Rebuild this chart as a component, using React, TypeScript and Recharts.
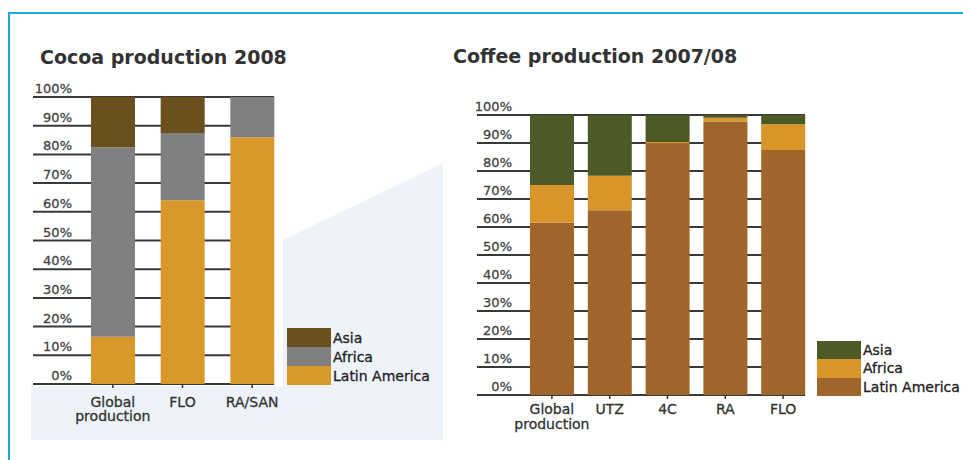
import React from 'react';
import { BarChart, Bar, XAxis, YAxis, CartesianGrid, Legend } from 'recharts';

// ---------- Data ----------
const cocoaCategories = ['Global production', 'FLO', 'RA/SAN'];
const cocoaLatinAmerica = [16.5, 64, 86];
const cocoaAfrica = [66, 23.5, 14];
const cocoaAsia = [17.5, 12.5, 0];

const coffeeCategories = ['Global production', 'UTZ', '4C', 'RA', 'FLO'];
const coffeeLatinAmerica = [61.5, 66, 89.8, 97.7, 87.5];
const coffeeAfrica = [13.5, 12.3, 0.6, 1.3, 9.2];
const coffeeAsia = [25, 21.7, 9.6, 1.0, 3.3];

const percentTicks = [0, 10, 20, 30, 40, 50, 60, 70, 80, 90, 100];
const legendOrder = ['Asia', 'Africa', 'Latin America'];

const cocoaData = cocoaCategories.map((name, i) => ({
  name,
  latin: cocoaLatinAmerica[i],
  africa: cocoaAfrica[i],
  asia: cocoaAsia[i],
}));

const coffeeData = coffeeCategories.map((name, i) => ({
  name,
  latin: coffeeLatinAmerica[i],
  africa: coffeeAfrica[i],
  asia: coffeeAsia[i],
}));

const FONT = '"DejaVu Sans", Verdana, sans-serif';

const YTick = (props: any) => {
  const { x, y, payload, shift } = props;
  return (
    <text
      x={x + shift}
      y={y - 4}
      textAnchor="end"
      fontSize={13}
      fill="#444"
      stroke="#444"
      strokeWidth={0.3}
      fontFamily={FONT}
    >
      {payload.value}%
    </text>
  );
};

const XTick = (props: any) => {
  const { x, y, payload, first } = props;
  const lines = String(payload.value).split(' ');
  return (
    <text x={x} y={y} textAnchor="middle" fontSize={14} fill="#333" stroke="#333" strokeWidth={0.3} fontFamily={FONT}>
      {lines.map((l, i) => (
        <tspan key={i} x={x} dy={i === 0 ? first : 14.5}>
          {l}
        </tspan>
      ))}
    </text>
  );
};

const makeLegend = (rowH: number) => (props: any) => {
  const items = [...(props.payload || [])].sort(
    (a: any, b: any) => legendOrder.indexOf(a.value) - legendOrder.indexOf(b.value)
  );
  return (
    <div style={{ fontFamily: FONT }}>
      {items.map((it: any) => (
        <div key={it.value} style={{ display: 'flex', alignItems: 'center', height: rowH }}>
          <div style={{ width: 44, height: rowH, background: it.color }} />
          <span
            style={{
              marginLeft: 2,
              fontSize: 14,
              color: '#222',
              whiteSpace: 'nowrap',
              WebkitTextStroke: '0.3px #222',
            }}
          >
            {it.value}
          </span>
        </div>
      ))}
    </div>
  );
};

const titleStyle: React.CSSProperties = {
  position: 'absolute',
  fontFamily: FONT,
  fontWeight: 'bold',
  fontSize: 19,
  lineHeight: '19px',
  color: '#333',
  whiteSpace: 'nowrap',
};

export default function App() {
  return (
    <div
      style={{
        position: 'absolute',
        left: 0,
        top: 0,
        width: 963,
        height: 460,
        overflow: 'hidden',
        background: '#fff',
      }}
    >
      {/* background panel */}
      <svg width={963} height={460} style={{ position: 'absolute', left: 0, top: 0 }}>
        <polygon points="31,386 283,386 283,240 443,163 443,440 31,440" fill="#eef3f9" />
      </svg>

      {/* frame */}
      <div style={{ position: 'absolute', left: 8, top: 12, width: 955, height: 2, background: '#1ea7e1' }} />
      <div style={{ position: 'absolute', left: 8, top: 12, width: 2, height: 448, background: '#1ea7e1' }} />

      <div style={{ ...titleStyle, left: 40, top: 48 }}>Cocoa production 2008</div>
      <div style={{ ...titleStyle, left: 453, top: 47 }}>Coffee production 2007/08</div>

      {/* Cocoa */}
      <div style={{ position: 'absolute', left: 0, top: 0 }}>
        <BarChart
          width={445}
          height={440}
          data={cocoaData}
          margin={{ top: 97, right: 171, bottom: 16, left: 0 }}
        >
          <CartesianGrid vertical={false} stroke="#383838" strokeWidth={2} />
          <YAxis
            domain={[0, 100]}
            ticks={percentTicks}
            width={33}
            axisLine={false}
            tickLine={false}
            tickSize={0}
            tickMargin={0}
            interval={0}
            tick={(p: any) => <YTick {...p} shift={39} />}
          />
          <XAxis
            dataKey="name"
            height={40}
            axisLine={false}
            tickSize={4}
            tickMargin={0}
            interval={0}
            padding={{ left: 45, right: -13 }}
            tickLine={{ stroke: '#333', strokeWidth: 1.5 }}
            tick={(p: any) => <XTick {...p} first={18.5} />}
          />
          <Legend
            layout="vertical"
            align="center"
            verticalAlign="middle"
            wrapperStyle={{ left: 287, top: 328, width: 'auto' }}
            content={makeLegend(19)}
          />
          <Bar dataKey="latin" name="Latin America" stackId="a" fill="#d8982a" barSize={44} isAnimationActive={false} />
          <Bar dataKey="africa" name="Africa" stackId="a" fill="#808080" barSize={44} isAnimationActive={false} />
          <Bar dataKey="asia" name="Asia" stackId="a" fill="#6b4f1f" barSize={44} isAnimationActive={false} />
        </BarChart>
      </div>

      {/* Coffee */}
      <div style={{ position: 'absolute', left: 440, top: 0 }}>
        <BarChart
          width={523}
          height={450}
          data={coffeeData}
          margin={{ top: 115, right: 158, bottom: 15, left: 0 }}
        >
          <CartesianGrid vertical={false} stroke="#383838" strokeWidth={2} />
          <YAxis
            domain={[0, 100]}
            ticks={percentTicks}
            width={37}
            axisLine={false}
            tickLine={false}
            tickSize={0}
            tickMargin={0}
            interval={0}
            tick={(p: any) => <YTick {...p} shift={35} />}
          />
          <XAxis
            dataKey="name"
            height={40}
            axisLine={false}
            tickSize={4}
            tickMargin={0}
            interval={0}
            padding={{ left: 46, right: -7 }}
            tickLine={{ stroke: '#333', strokeWidth: 1.5 }}
            tick={(p: any) => <XTick {...p} first={15} />}
          />
          <Legend
            layout="vertical"
            align="center"
            verticalAlign="middle"
            wrapperStyle={{ left: 377, top: 341, width: 'auto' }}
            content={makeLegend(18.3)}
          />
          <Bar dataKey="latin" name="Latin America" stackId="a" fill="#a0652a" barSize={44} isAnimationActive={false} />
          <Bar dataKey="africa" name="Africa" stackId="a" fill="#d8962a" barSize={44} isAnimationActive={false} />
          <Bar dataKey="asia" name="Asia" stackId="a" fill="#4d5a26" barSize={44} isAnimationActive={false} />
        </BarChart>
      </div>
    </div>
  );
}
